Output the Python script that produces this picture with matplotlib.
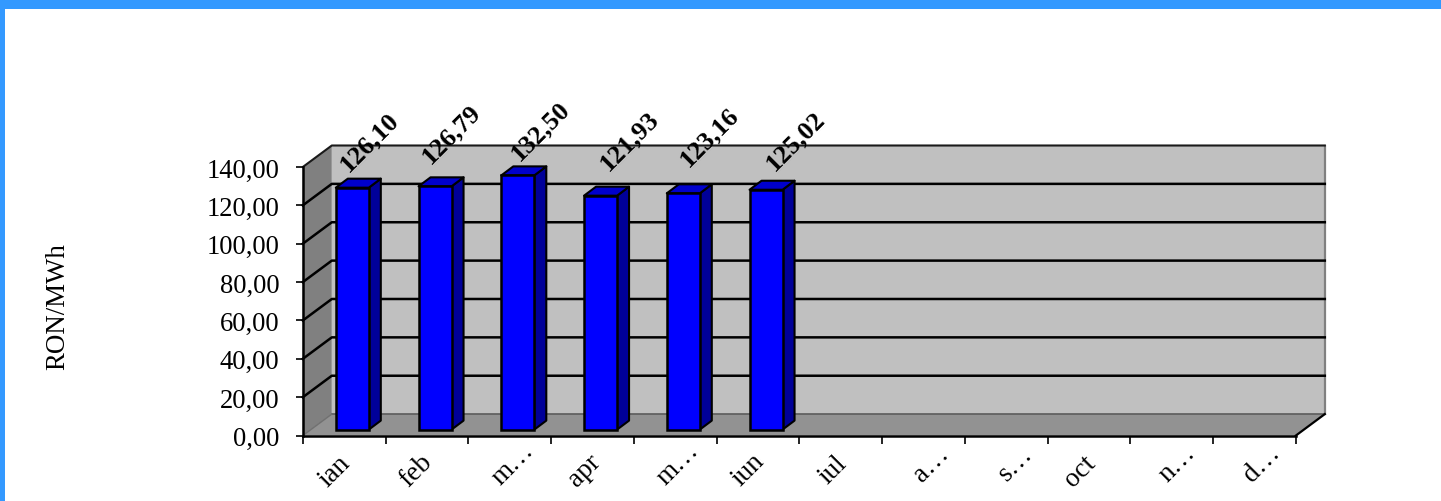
import matplotlib
matplotlib.use("Agg")
import matplotlib.pyplot as plt
from matplotlib.patches import Polygon, Rectangle

plt.rcParams['font.family'] = ['Liberation Serif', 'DejaVu Serif']

months = ['ian', 'feb', 'm…', 'apr', 'm…', 'iun', 'iul', 'a…', 's…', 'oct', 'n…', 'd…']
values = [126.10, 126.79, 132.50, 121.93, 123.16, 125.02]
value_labels = ['126,10', '126,79', '132,50', '121,93', '123,16', '125,02']
y_ticks = [0, 20, 40, 60, 80, 100, 120, 140]
y_tick_labels = ['0,00', '20,00', '40,00', '60,00', '80,00', '100,00', '120,00', '140,00']
label_dx = [17, 16, 23, 29, 26, 29]
label_dy = [47, 53, 45, 56, 57, 50]
month_dx = [-10, -11, 3, -8, 3, -10, -8, 8, 9, -9, 6, 7]
month_pad = [25, 25, 20, 25, 20, 24, 24, 20, 20, 25, 20, 20]

W, H = 1441, 502
fig = plt.figure(figsize=(W / 100, H / 100), dpi=100, facecolor='white')

# page border
fig.add_artist(Rectangle((0, 1 - 10 / H), 1, 10 / H, transform=fig.transFigure, color='#3399FF', lw=0))
fig.add_artist(Rectangle((0, 0), 5 / W, 1, transform=fig.transFigure, color='#3399FF', lw=0))

ax = fig.add_axes([302.8 / W, (H - 436.6) / H, 993 / W, 268.6 / H])
ax.set_xlim(0, 12)
ax.set_ylim(0, 140)
ax.patch.set_visible(False)

px_x = 12 / 993
px_y = 140 / 268.6
depth_x = 29 * px_x
depth_y = 21.5 * px_y
top = 140

def poly(pts, fc, ec='none', lw=0, z=1):
    ax.add_patch(Polygon(pts, closed=True, facecolor=fc, edgecolor=ec, linewidth=lw,
                         zorder=z, clip_on=False, joinstyle='round'))

# walls and floor
poly([(depth_x, depth_y), (12 + depth_x, depth_y), (12 + depth_x, top + depth_y), (depth_x, top + depth_y)], '#C0C0C0')
poly([(0, 0), (depth_x, depth_y), (depth_x, top + depth_y), (0, top)], '#808080')
poly([(0, 0), (12, 0), (12 + depth_x, depth_y), (depth_x, depth_y)], '#929292')

# wall edges
ax.plot([depth_x, 12 + depth_x], [depth_y, depth_y], color='#5a5a5a', lw=1.2, zorder=2, clip_on=False)
ax.plot([12 + depth_x, 12 + depth_x], [depth_y, top + depth_y], color='#808080', lw=1.6, zorder=2, clip_on=False)
ax.plot([0, depth_x, 12 + depth_x], [top, top + depth_y, top + depth_y], color='#1a1a1a', lw=1.5, zorder=2, clip_on=False)
ax.plot([12, 12 + depth_x], [0, depth_y], color='black', lw=1.6, zorder=2, clip_on=False)
ax.plot([0, depth_x], [0, depth_y], color='#707070', lw=1, zorder=2, clip_on=False)

# gridlines over side and back wall
for t in y_ticks[1:-1]:
    ax.plot([0, depth_x, 12 + depth_x], [t, t + depth_y, t + depth_y], color='black', lw=1.8, zorder=2, clip_on=False)

# bars
bar_w = 33 * px_x
bar_x0 = 33 * px_x
base = 6 * px_y
dx = 12 * px_x
dy = 9 * px_y
for i, v in enumerate(values):
    left = i + bar_x0
    right = left + bar_w
    ax.bar(left, v, width=bar_w, bottom=base, align='edge', color='#0000FF',
           edgecolor='black', linewidth=1.8, zorder=4)
    t = base + v
    poly([(right, base), (right + dx, base + dy), (right + dx, t + dy), (right, t)], '#000099', 'black', 1.5, 3)
    poly([(left, t), (left + dx, t + dy), (right + dx, t + dy), (right, t)], '#0000CC', 'black', 1.5, 3)
    ax.annotate(value_labels[i], xy=(left + bar_w / 2, t), xytext=(label_dx[i] * 0.72, label_dy[i] * 0.72),
                textcoords='offset points', rotation=45, ha='center', va='center',
                fontsize=19, fontweight='bold', color='black', zorder=6, annotation_clip=False)

# axes
for s in ['top', 'right']:
    ax.spines[s].set_visible(False)
for s in ['left', 'bottom']:
    ax.spines[s].set_linewidth(1.8)
    ax.spines[s].set_color('black')
    ax.spines[s].set_zorder(5)

ax.set_yticks(y_ticks)
ax.set_yticklabels(y_tick_labels, fontsize=19.2)
ax.tick_params(axis='y', length=5, width=1.2, pad=12)
ax.set_xticks(range(13))
ax.set_xticklabels([])
ax.tick_params(axis='x', which='major', length=5.8, width=1.2)
ax.set_xticks([i + 0.5 + d * px_x for i, d in enumerate(month_dx)], minor=True)
ax.set_xticklabels(months, minor=True, fontsize=19.6, rotation=45, ha='center', va='center', rotation_mode='anchor')
ax.tick_params(axis='x', which='minor', length=0)
for tick, pad in zip(ax.xaxis.get_minor_ticks(), month_pad):
    tick.set_pad(pad)

fig.text(57.5 / W, 1 - 306.5 / H, 'RON/MWh', rotation=90, ha='center', va='center', fontsize=19.4)

fig.savefig('out.png', dpi=100)
